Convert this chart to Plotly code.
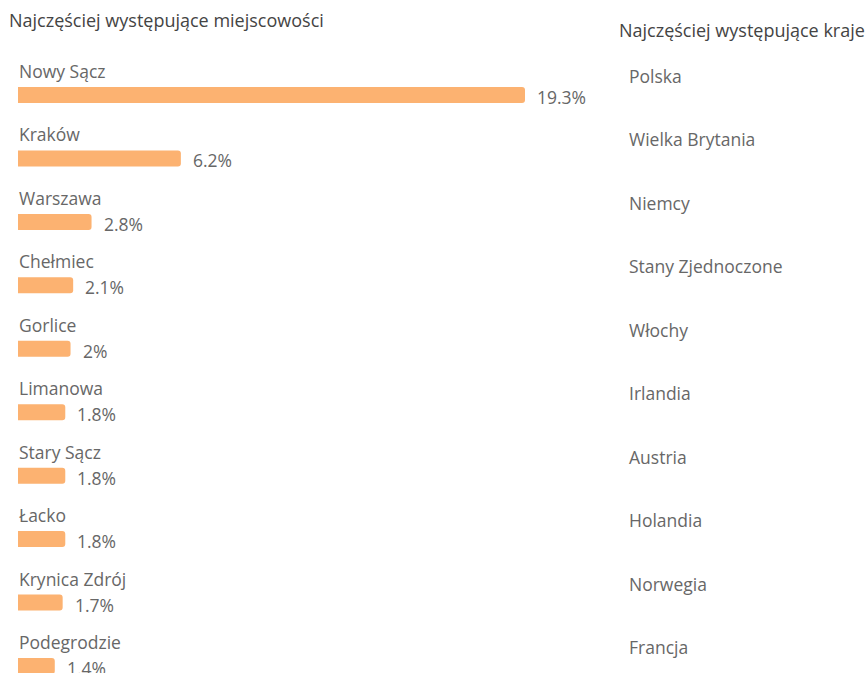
import plotly.graph_objects as go

# ── Data ──
cities = ["Nowy Sącz", "Kraków", "Warszawa", "Chełmiec", "Gorlice",
          "Limanowa", "Stary Sącz", "Łacko", "Krynica Zdrój", "Podegrodzie"]
city_share = [19.3, 6.2, 2.8, 2.1, 2.0, 1.8, 1.8, 1.8, 1.7, 1.4]
countries = ["Polska", "Wielka Brytania", "Niemcy", "Stany Zjednoczone", "Włochy",
             "Irlandia", "Austria", "Holandia", "Norwegia", "Francja"]

W, H = 866, 673
ROW = 63.44          # px between rows
FIRST = 95           # px from top to centre of the first bar
FONT = "Open Sans, Segoe UI, sans-serif"
TEXT = "#676767"
SIZE = 17.5

rows = list(range(len(cities)))

fig = go.Figure()
fig.add_trace(go.Bar(
    x=city_share, y=rows, orientation="h",
    width=16 / ROW,
    marker=dict(color="#fcb271", cornerradius=3, line=dict(width=0)),
    hoverinfo="skip", showlegend=False,
))

ann = []
# city names above bars, value labels to the right
for i, (name, v) in enumerate(zip(cities, city_share)):
    ann.append(dict(x=0, y=i, xref="x", yref="y", text=name, showarrow=False,
                    xanchor="left", yanchor="middle", yshift=24, xshift=-1,
                    font=dict(family=FONT, size=SIZE, color=TEXT)))
    ann.append(dict(x=v, y=i, xref="x", yref="y", text=f"{v:g}%", showarrow=False,
                    xanchor="left", yanchor="middle", xshift=10, yshift=-2,
                    font=dict(family=FONT, size=SIZE, color=TEXT)))
# country names (right panel)
for i, name in enumerate(countries):
    ann.append(dict(x=627 / W, y=i, xref="paper", yref="y", text=name, showarrow=False,
                    xanchor="left", yanchor="middle", yshift=19,
                    font=dict(family=FONT, size=SIZE, color=TEXT)))

# panel titles
ann.append(dict(x=7 / W, y=1 - 20 / H, xref="paper", yref="paper",
                text="Najczęściej występujące miejscowości", showarrow=False,
                xanchor="left", yanchor="middle",
                font=dict(family=FONT, size=18, color="#444444")))
ann.append(dict(x=617 / W, y=1 - 30 / H, xref="paper", yref="paper",
                text="Najczęściej występujące kraje", showarrow=False,
                xanchor="left", yanchor="middle",
                font=dict(family=FONT, size=18, color="#444444")))

px_per_unit = (525 - 18) / 19.3
x_max = 30
fig.update_layout(
    width=W, height=H,
    margin=dict(l=0, r=0, t=0, b=0),
    plot_bgcolor="white", paper_bgcolor="white",
    xaxis=dict(visible=False, range=[0, x_max],
               domain=[18 / W, (18 + x_max * px_per_unit) / W]),
    yaxis=dict(visible=False,
               range=[(H - FIRST) / ROW, -FIRST / ROW]),
    annotations=ann,
)

# drop the browser's default 8px body margin so the figure sits at (0, 0)
fig.write_html("out.html", config={"displayModeBar": False},
               post_script="document.body.style.margin='0';")
